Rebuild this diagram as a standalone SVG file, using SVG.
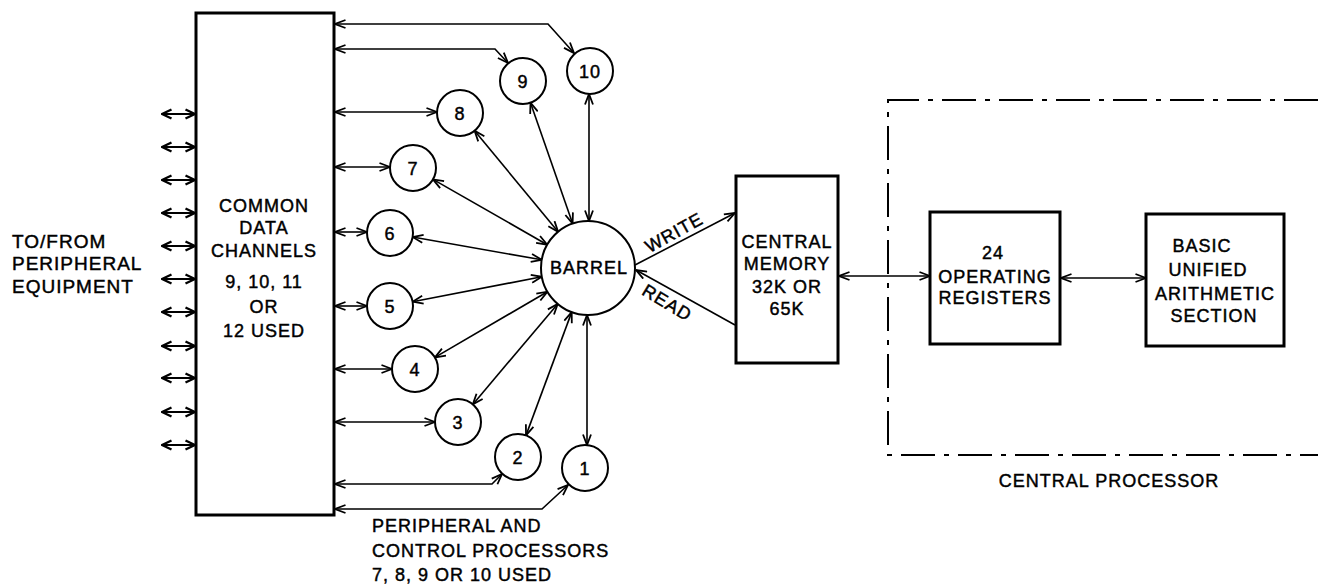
<svg xmlns="http://www.w3.org/2000/svg" width="1318" height="585" viewBox="0 0 1318 585">
<style>
text{font-family:"Liberation Sans",Arial,sans-serif;font-size:18px;fill:#000;stroke:#000;stroke-width:0.45px;letter-spacing:1px}
.c{text-anchor:middle}
.box{fill:#fff;stroke:#000;stroke-width:3}
.circ{fill:#fff;stroke:#000;stroke-width:2}
.ln{fill:none;stroke:#000;stroke-width:1.6}
.dd{fill:none;stroke:#000;stroke-width:2;stroke-dasharray:34 9 5 9}
.sm{fill:none;stroke:#000;stroke-width:2.2}
</style>
<defs>
<marker id="ah" viewBox="0 0 12 10" refX="11.5" refY="5" markerWidth="12" markerHeight="10" markerUnits="userSpaceOnUse" orient="auto-start-reverse">
<path d="M1,1 L11.5,5 L1,9" fill="none" stroke="#000" stroke-width="1.8"/>
</marker>
<marker id="sa" viewBox="0 0 12 12" refX="11" refY="6" markerWidth="12" markerHeight="12" markerUnits="userSpaceOnUse" orient="auto-start-reverse">
<path d="M1.5,1.5 L11,6 L1.5,10.5" fill="none" stroke="#000" stroke-width="2.4"/>
</marker>
</defs>

<g id="cp-boundary">
<path class="dd" d="M1318,100 H888 V455 H1318"/>
<text class="c" x="1109" y="487">CENTRAL PROCESSOR</text>
</g>

<g id="connectors">
<g marker-start="url(#sa)" marker-end="url(#sa)">
<line class="sm" x1="162" y1="114" x2="195" y2="114"/>
<line class="sm" x1="162" y1="147" x2="195" y2="147"/>
<line class="sm" x1="162" y1="180" x2="195" y2="180"/>
<line class="sm" x1="162" y1="213" x2="195" y2="213"/>
<line class="sm" x1="162" y1="246" x2="195" y2="246"/>
<line class="sm" x1="162" y1="279" x2="195" y2="279"/>
<line class="sm" x1="162" y1="312" x2="195" y2="312"/>
<line class="sm" x1="162" y1="346" x2="195" y2="346"/>
<line class="sm" x1="162" y1="378" x2="195" y2="378"/>
<line class="sm" x1="162" y1="412" x2="195" y2="412"/>
<line class="sm" x1="162" y1="445" x2="195" y2="445"/>
</g>
<g marker-start="url(#ah)" marker-end="url(#ah)">
<polyline class="ln" points="335,24 548,24 574,53"/>
<polyline class="ln" points="335,49 495,49 508,63"/>
<line class="ln" x1="335" y1="112" x2="437" y2="112"/>
<line class="ln" x1="335" y1="167" x2="390" y2="167"/>
<line class="ln" x1="335" y1="232" x2="367" y2="232"/>
<line class="ln" x1="335" y1="306" x2="367" y2="306"/>
<line class="ln" x1="335" y1="369" x2="392" y2="369"/>
<line class="ln" x1="335" y1="422" x2="435" y2="422"/>
<polyline class="ln" points="335,484 492,484 502,474"/>
<polyline class="ln" points="335,509 542,509 568,485"/>
<line class="ln" x1="589" y1="94" x2="589" y2="221"/>
<line class="ln" x1="530.5" y1="102.7" x2="572.6" y2="223.6"/>
<line class="ln" x1="474.6" y1="130.7" x2="558.1" y2="231.8"/>
<line class="ln" x1="433" y1="179.4" x2="547.2" y2="244.7"/>
<line class="ln" x1="412.6" y1="237" x2="541.7" y2="259.8"/>
<line class="ln" x1="412.6" y1="301.7" x2="541.8" y2="276.8"/>
<line class="ln" x1="434.9" y1="357.4" x2="547.4" y2="291.7"/>
<line class="ln" x1="472.8" y1="404.4" x2="557.7" y2="303.9"/>
<line class="ln" x1="526" y1="435.4" x2="571.7" y2="312.1"/>
<line class="ln" x1="587" y1="445" x2="587" y2="315"/>
<line class="ln" x1="839" y1="276" x2="930" y2="276"/>
<line class="ln" x1="1061" y1="278" x2="1146" y2="278"/>
</g>
<line class="ln" x1="635" y1="265" x2="735" y2="213" marker-end="url(#ah)"/>
<line class="ln" x1="735" y1="325" x2="636" y2="270" marker-end="url(#ah)"/>
<text transform="translate(677,238) rotate(-29)" class="c">WRITE</text>
<text transform="translate(664,308) rotate(31)" class="c">READ</text>
</g>

<g id="peripheral-label">
<text x="12" y="248" style="font-size:19px">TO/FROM</text>
<text x="12" y="270" style="font-size:19px">PERIPHERAL</text>
<text x="12" y="293" style="font-size:19px">EQUIPMENT</text>
</g>

<g id="common-data-channels">
<rect class="box" x="196" y="13" width="138" height="502"/>
<text class="c" x="264" y="212">COMMON</text>
<text class="c" x="264" y="234">DATA</text>
<text class="c" x="264" y="257">CHANNELS</text>
<text class="c" x="264" y="288">9, 10, 11</text>
<text class="c" x="264" y="313">OR</text>
<text class="c" x="264" y="337">12 USED</text>
</g>

<g id="p10"><circle class="circ" cx="590" cy="71" r="23"/><text class="c" x="590" y="78">10</text></g>
<g id="p9"><circle class="circ" cx="523" cy="81" r="23"/><text class="c" x="523" y="88">9</text></g>
<g id="p8"><circle class="circ" cx="460" cy="113" r="23"/><text class="c" x="460" y="120">8</text></g>
<g id="p7"><circle class="circ" cx="413" cy="168" r="23"/><text class="c" x="413" y="175">7</text></g>
<g id="p6"><circle class="circ" cx="390" cy="233" r="23"/><text class="c" x="390" y="240">6</text></g>
<g id="p5"><circle class="circ" cx="390" cy="306" r="23"/><text class="c" x="390" y="313">5</text></g>
<g id="p4"><circle class="circ" cx="415" cy="369" r="23"/><text class="c" x="415" y="376">4</text></g>
<g id="p3"><circle class="circ" cx="458" cy="422" r="23"/><text class="c" x="458" y="429">3</text></g>
<g id="p2"><circle class="circ" cx="518" cy="457" r="23"/><text class="c" x="518" y="464">2</text></g>
<g id="p1"><circle class="circ" cx="585" cy="468" r="23"/><text class="c" x="585" y="475">1</text></g>

<g id="processors-label">
<text x="372" y="532">PERIPHERAL AND</text>
<text x="372" y="557">CONTROL PROCESSORS</text>
<text x="372" y="581">7, 8, 9 OR 10 USED</text>
</g>

<g id="barrel">
<circle class="circ" cx="588" cy="268" r="47"/>
<text class="c" x="589" y="274">BARREL</text>
</g>

<g id="central-memory">
<rect class="box" x="736" y="176" width="102" height="187"/>
<text class="c" x="787" y="248">CENTRAL</text>
<text class="c" x="787" y="270">MEMORY</text>
<text class="c" x="787" y="293">32K OR</text>
<text class="c" x="787" y="315">65K</text>
</g>

<g id="operating-registers">
<rect class="box" x="930" y="212" width="130" height="132"/>
<text class="c" x="993" y="259">24</text>
<text class="c" x="995" y="283">OPERATING</text>
<text class="c" x="995" y="304">REGISTERS</text>
</g>

<g id="arithmetic-section">
<rect class="box" x="1146" y="214" width="138" height="132"/>
<text class="c" x="1202" y="252">BASIC</text>
<text class="c" x="1208" y="276">UNIFIED</text>
<text class="c" x="1215" y="300">ARITHMETIC</text>
<text class="c" x="1214" y="322">SECTION</text>
</g>
</svg>
